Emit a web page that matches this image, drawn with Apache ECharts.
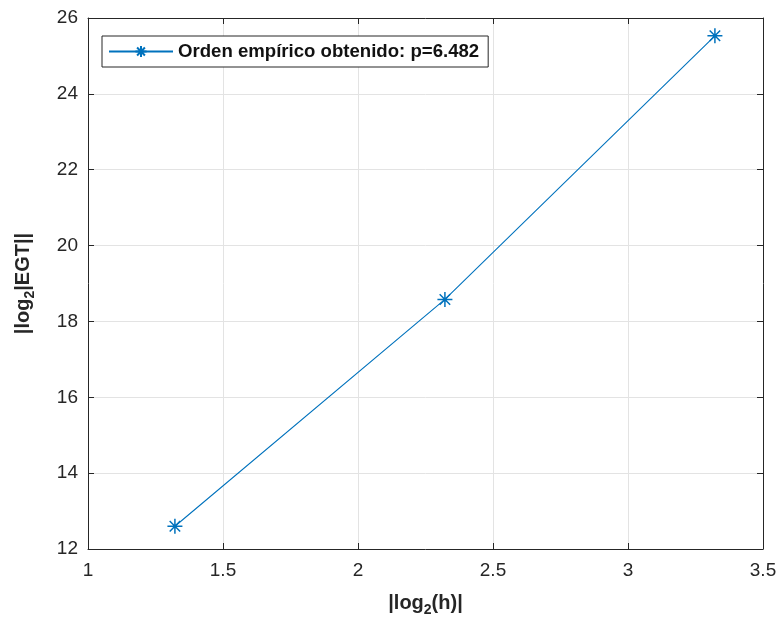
<!DOCTYPE html>
<html>
<head>
<meta charset="utf-8">
<script src="https://cdn.jsdelivr.net/npm/echarts@6/dist/echarts.min.js"></script>
<style>
  html, body { margin: 0; padding: 0; background: #fff; }
  #chart { width: 778px; height: 619px; }
</style>
</head>
<body>
<div id="chart"></div>
<script>
// |log2(h)| for h = 2.5, 5, 10
const logH = [1.3219, 2.3219, 3.3219];
// |log2|EGT|| measured at each step
const logErr = [12.6, 18.58, 25.53];
const seriesName = 'Orden empírico obtenido: p=6.482';
const xTicks = [1, 1.5, 2, 2.5, 3, 3.5];
const yTicks = [12, 14, 16, 18, 20, 22, 24, 26];

const blue = '#0072BD';
const axisColor = '#262626';
const font = 'Liberation Sans, Arial, sans-serif';
// asterisk marker: plus + cross strokes
const asterisk = 'path://M0,-10L0,10M-10,0L10,0M-7,-7L7,7M-7,7L7,-7';

const chart = echarts.init(document.getElementById('chart'), null, { renderer: 'canvas' });

const baseAxis = {
  axisLine: { show: true, lineStyle: { color: axisColor, width: 1 } },
  axisTick: { show: true, inside: true, length: 6, lineStyle: { color: axisColor } },
  splitLine: { show: false },
  axisLabel: { show: false }
};

const nameRich = {
  a: { fontFamily: font, fontWeight: 'bold', fontSize: 20, color: axisColor },
  s: { fontFamily: font, fontWeight: 'bold', fontSize: 14, color: axisColor, padding: [14, 0, 0, 0] }
};

chart.setOption({
  animation: false,
  backgroundColor: '#fff',
  grid: { left: 88, right: 15, top: 18, bottom: 70, containLabel: false, outerBoundsMode: 'none' },
  legend: {
    left: 102, top: 36,
    orient: 'horizontal',
    itemWidth: 64, itemHeight: 14,
    itemGap: 0,
    padding: [6, 9, 6, 6],
    borderColor: axisColor, borderWidth: 1,
    backgroundColor: '#fff',
    textStyle: { fontFamily: font, fontWeight: 'bold', fontSize: 18.6, color: '#111' },
    data: [{ name: seriesName }]
  },
  xAxis: [
    {
      type: 'value', min: 1, max: 3.5, interval: 0.5,
      position: 'bottom',
      axisLine: { show: true, lineStyle: { color: axisColor, width: 1 } },
      axisTick: { show: true, inside: true, length: 6, lineStyle: { color: axisColor } },
      splitLine: { show: true, lineStyle: { color: '#e3e3e3', width: 1 } },
      axisLabel: {
        show: true, margin: 12, color: axisColor,
        fontFamily: font, fontSize: 19,
        formatter: v => (xTicks.includes(v) ? String(v) : '')
      },
      name: '{a||log}{s|2}{a|(h)|}',
      nameLocation: 'middle', nameGap: 40,
      nameTextStyle: { rich: nameRich }
    },
    Object.assign({ type: 'value', min: 1, max: 3.5, interval: 0.5, position: 'top' }, baseAxis)
  ],
  yAxis: [
    {
      type: 'value', min: 12, max: 26, interval: 2,
      position: 'left',
      axisLine: { show: true, lineStyle: { color: axisColor, width: 1 } },
      axisTick: { show: true, inside: true, length: 6, lineStyle: { color: axisColor } },
      splitLine: { show: true, lineStyle: { color: '#e3e3e3', width: 1 } },
      axisLabel: {
        show: true, margin: 10, color: axisColor,
        fontFamily: font, fontSize: 19,
        formatter: v => (yTicks.includes(v) ? String(v) : '')
      },
      name: '{a||log}{s|2}{a||EGT||}',
      nameLocation: 'middle', nameGap: 51, nameRotate: 90,
      nameTextStyle: { rich: nameRich }
    },
    Object.assign({ type: 'value', min: 12, max: 26, interval: 2, position: 'right' }, baseAxis)
  ],
  series: [
    {
      name: seriesName,
      type: 'line',
      xAxisIndex: 0, yAxisIndex: 0,
      data: logH.map((x, i) => [x, logErr[i]]),
      symbol: asterisk,
      symbolSize: 15,
      showAllSymbol: true,
      lineStyle: { color: blue, width: 1.1 },
      itemStyle: { color: 'rgba(0,0,0,0)', borderColor: blue, borderWidth: 1.5 }
    }
  ]
});
</script>
</body>
</html>
